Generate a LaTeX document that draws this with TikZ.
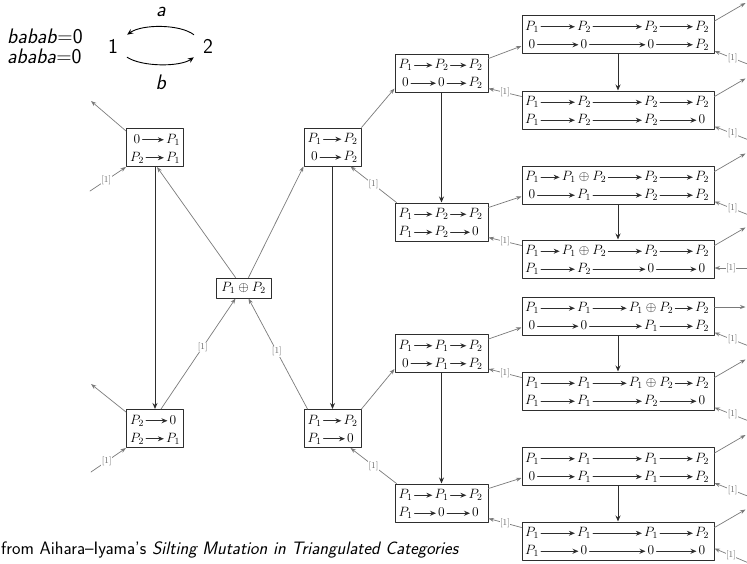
\RequirePackage{fix-cm}
\documentclass[tikz,border=0pt]{standalone}
\usetikzlibrary{calc,arrows.meta}
\definecolor{BoxInk}{HTML}{2E2E2E}
\definecolor{LinkGray}{HTML}{7A7A7A}

\begin{document}
\begin{tikzpicture}[x=1pt,y=-1pt,line cap=round,line join=round,
    box/.style={draw=BoxInk,line width=1pt,inner sep=0pt,minimum height=38pt},
    ent/.style={inner sep=2pt,anchor=base,text height=9.5pt,text depth=3pt,font=\fontsize{13.5}{15}\selectfont},
    rowarr/.style={draw=BoxInk,line width=.9pt,-{Stealth[length=6pt,width=5pt]}},
    downarr/.style={draw=BoxInk,line width=1pt,-{Stealth[length=6pt,width=5pt]}},
    link/.style={draw=LinkGray,line width=.7pt,-{Stealth[length=5.5pt,width=4pt]}},
    shiftlab/.style={fill=white,inner sep=.6pt,text=black!60,font=\fontsize{9}{9}\selectfont},
    qtext/.style={font=\fontsize{21}{20}\selectfont\sffamily}]
  \useasboundingbox (0,0) rectangle (747,563);
  % the quiver
  \node[qtext,align=left,anchor=west,inner sep=0pt] (rels) at (7,46) {\textit{babab}=0\\\textit{ababa}=0};
  \node[qtext,inner xsep=9pt,inner ysep=4pt] (q1) at (113,46) {1};
  \node[qtext,inner xsep=9pt,inner ysep=4pt] (q2) at (208,46) {2};
  \node[qtext] (qa) at (161,12) {\textit{a}};
  \node[qtext] (qb) at (161,82) {\textit{b}};
  \draw[line width=.9pt,-{Stealth[length=6pt,width=5pt]}] (q2.north west) .. controls (180,24) and (142,24) .. (q1.north east);
  \draw[line width=.9pt,-{Stealth[length=6pt,width=5pt]}] (q1.south east) .. controls (142,67) and (180,67) .. (q2.south west);
  % left and middle columns
  \foreach \n/\x/\y/\ta/\tb/\ba/\bb in {L1/155/147.5/0/P_1/P_2/P_1,L2/155/428.5/P_2/0/P_2/P_1,
      M1/332.5/147/P_1/P_2/0/P_2,M2/332.5/428.5/P_1/P_2/P_1/0}{
    \node[box,minimum width=57pt] (\n) at (\x,\y) {};
    \node[ent] (\n-11) at ($(\n)+(-18,-4.5)$) {$\ta$}; \node[ent] (\n-12) at ($(\n)+(18,-4.5)$) {$\tb$};
    \node[ent] (\n-21) at ($(\n)+(-18,13.5)$) {$\ba$}; \node[ent] (\n-22) at ($(\n)+(18,13.5)$) {$\bb$};
    \draw[rowarr] (\n-11) -- (\n-12); \draw[rowarr] (\n-21) -- (\n-22);
  }
  \node[box,minimum width=55pt,minimum height=20pt,font=\fontsize{13.5}{15}\selectfont] (C) at (243.5,288) {$P_1\oplus P_2$};
  % third column
  \foreach \n/\y/\ta/\tb/\tc/\ba/\bb/\bc in {N1/73/P_1/P_2/P_2/0/0/P_2,N2/222/P_1/P_2/P_2/P_1/P_2/0,
      N3/353.5/P_1/P_1/P_2/0/P_1/P_2,N4/503/P_1/P_1/P_2/P_1/0/0}{
    \node[box,minimum width=93pt] (\n) at (441.5,\y) {};
    \foreach \v/\dx [count=\i] in {\ta/-36,\tb/0,\tc/34} \node[ent] (\n-1\i) at ($(\n)+(\dx,-4.5)$) {$\v$};
    \foreach \v/\dx [count=\i] in {\ba/-36,\bb/0,\bc/34} \node[ent] (\n-2\i) at ($(\n)+(\dx,13.5)$) {$\v$};
    \foreach \i/\j in {1/2,2/3} {\draw[rowarr] (\n-1\i) -- (\n-1\j); \draw[rowarr] (\n-2\i) -- (\n-2\j);}
  }
  % right column
  \foreach \n/\y/\ta/\tb/\tc/\td/\ba/\bb/\bc/\bd in {
      R1/34.5/P_1/P_2/P_2/P_2/0/0/0/P_2,
      R2/110/P_1/P_2/P_2/P_2/P_1/P_2/P_2/0,
      R3/185/P_1/P_1\oplus P_2/P_2/P_2/0/P_1/P_2/P_2,
      R4/259/P_1/P_1\oplus P_2/P_2/P_2/P_1/P_2/0/0,
      R5/316/P_1/P_1/P_1\oplus P_2/P_2/0/0/P_1/P_2,
      R6/391/P_1/P_1/P_1\oplus P_2/P_2/P_1/P_1/P_2/0,
      R7/466.5/P_1/P_1/P_1/P_2/0/P_1/P_1/P_2,
      R8/541/P_1/P_1/P_1/P_2/P_1/0/0/0}{
    \node[box,minimum width=192pt] (\n) at (618,\y) {};
    \foreach \v/\dx [count=\i] in {\ta/-86,\tb/-34,\tc/33,\td/84} \node[ent] (\n-1\i) at ($(\n)+(\dx,-4.5)$) {$\v$};
    \foreach \v/\dx [count=\i] in {\ba/-86,\bb/-34,\bc/33,\bd/84} \node[ent] (\n-2\i) at ($(\n)+(\dx,13.5)$) {$\v$};
    \foreach \i/\j in {1/2,2/3,3/4} {\draw[rowarr] (\n-1\i) -- (\n-1\j); \draw[rowarr] (\n-2\i) -- (\n-2\j);}
  }
  % mutations downwards
  \foreach \u/\v in {L1/L2,M1/M2,N1/N2,N3/N4,R1/R2,R3/R4,R5/R6,R7/R8} \draw[downarr] (\u) -- (\v);
  % links round the centre
  \draw[link] ([xshift=-8pt]C.north) -- ([xshift=2pt]L1.south);
  \draw[link] ([xshift=5pt]C.north) -- (M1.south west);
  \draw[link] ([xshift=6pt]L2.north) -- node[shiftlab,pos=.56] {[1]} ([xshift=-8pt]C.south);
  \draw[link] ([xshift=4pt]M2.north west) -- node[shiftlab,pos=.52] {[1]} ([xshift=5pt]C.south);
  \coordinate (L1-out) at (91,101); \coordinate (L1-in) at (90,191);
  \coordinate (L2-out) at (91,384); \coordinate (L2-in) at (91,472);
  \draw[link] ([yshift=-3pt]L1.north west) -- (L1-out);
  \draw[link] (L1-in) -- node[shiftlab,pos=.45] {[1]} (L1.south west);
  \draw[link] ([yshift=-3pt]L2.north west) -- (L2-out);
  \draw[link] (L2-in) -- node[shiftlab,pos=.45] {[1]} (L2.south west);
  \foreach \u/\v/\w in {M1/N1/N2,M2/N3/N4}{
    \draw[link] (\u.north east) -- ([yshift=4pt]\v.south west);
    \draw[link] ([xshift=2pt]\w.north west) -- node[shiftlab] {[1]} ([xshift=-11pt]\u.south east);}
  \foreach \u/\v/\w in {N1/R1/R2,N2/R3/R4,N3/R5/R6,N4/R7/R8}{
    \draw[link] ([yshift=-5pt]\u.north east) -- ([yshift=8pt]\v.south west);
    \draw[link] ([yshift=-6pt]\w.north west) -- node[shiftlab] {[1]} ([yshift=4pt]\u.south east);}
  % links leaving the picture
  \foreach \n in {R1,R2,R3,R4,R6,R7,R8}{
    \coordinate (\n-out) at ($(\n.north east)+(31,-12)$);
    \draw[link] ([yshift=-6pt]\n.north east) -- (\n-out);}
  \foreach \n in {R1,R2,R3,R5,R6,R7}{
    \coordinate (\n-in) at ($(\n.south east)+(33,10)$);
    \draw[link] (\n-in) -- node[shiftlab,pos=.45] {[1]} ([yshift=3pt]\n.south east);}
  \coordinate (R8-in) at ($(R8.south east)+(33,2)$);
  \draw[link] (R8-in) -- node[shiftlab,pos=.5] {[1]} ([yshift=12pt]R8.south east);
  \coordinate (R5-out) at ($(R5.east)+(31,-9)$);
  \draw[link] ([yshift=9pt]R5.east) -- (R5-out);
  \coordinate (R4-in) at ($(R4.east)+(33,9)$);
  \draw[link] (R4-in) -- node[shiftlab] {[1]} ([yshift=-9pt]R4.east);
  \node[anchor=west,inner sep=0pt,font=\fontsize{18}{20}\selectfont\sffamily] (cite) at (1,550) {from Aihara--Iyama's \textit{Silting Mutation in Triangulated Categories}};
\end{tikzpicture}
\end{document}
